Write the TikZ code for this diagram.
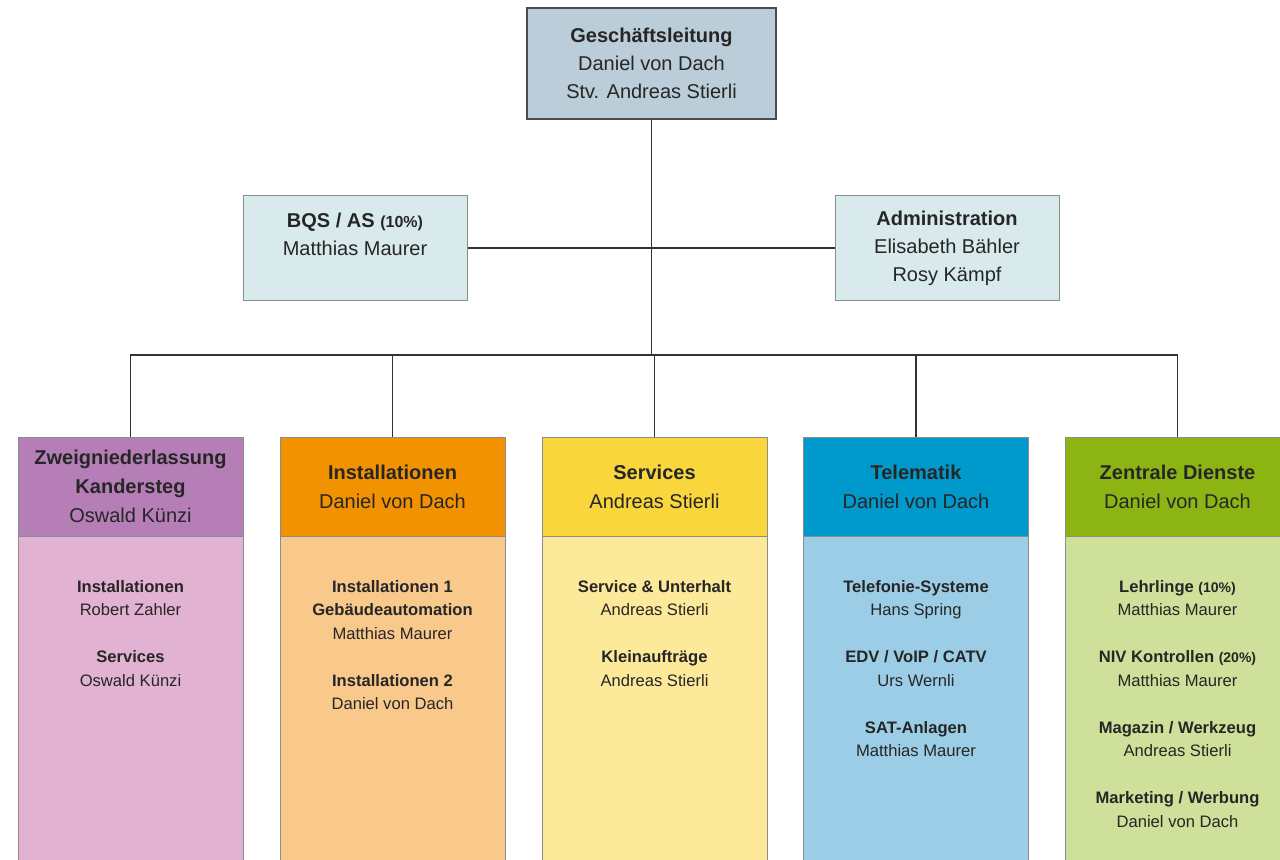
\documentclass[tikz,border=0pt]{standalone}
\usepackage{fontspec}
\setmainfont{Liberation Sans}
\usepackage{tikz}

\definecolor{leitungblau}{RGB}{187,205,216}
\definecolor{stabcyan}{RGB}{216,234,236}
\definecolor{lilakopf}{RGB}{181,126,183}
\definecolor{lilarumpf}{RGB}{226,178,210}
\definecolor{orangekopf}{RGB}{242,146,0}
\definecolor{orangerumpf}{RGB}{249,201,139}
\definecolor{gelbkopf}{RGB}{249,214,60}
\definecolor{gelbrumpf}{RGB}{253,233,154}
\definecolor{blaukopf}{RGB}{0,153,204}
\definecolor{blaurumpf}{RGB}{155,206,230}
\definecolor{gruenkopf}{RGB}{140,181,20}
\definecolor{gruenrumpf}{RGB}{207,224,154}

\newcommand{\anteil}[1]{{\fontsize{8}{8}\selectfont #1}}
\newcommand{\anteilklein}[1]{{\fontsize{7}{7}\selectfont #1}}

\tikzset{
    leitung/.style={draw=black!70, line width=1pt, fill=leitungblau, text=black!85,
        minimum width=124.5pt, minimum height=55.5pt, align=center,
        font=\fontsize{10}{14}\selectfont},
    stab/.style={draw=black!45, line width=0.5pt, fill=stabcyan, text=black!85,
        minimum width=112pt, minimum height=52.5pt, align=center,
        font=\fontsize{10}{14}\selectfont},
    kopf/.style={draw=black!45, line width=0.5pt, text=black!85,
        minimum width=112.5pt, minimum height=49.5pt, align=center,
        font=\fontsize{10}{14.5}\selectfont},
    rumpf/.style={draw=black!45, line width=0.5pt, anchor=north,
        minimum width=112.5pt, minimum height=167pt},
    liste/.style={anchor=north, inner sep=0pt, align=center, text=black!85,
        font=\fontsize{8.3}{11.75}\selectfont},
    linie/.style={draw=black!80, line width=0.75pt}
}

\begin{document}
\begin{tikzpicture}[x=0.5pt,y=-0.5pt]
    \useasboundingbox (0,0) rectangle (1280,859);

    \node[leitung] (gl) at (651.5,63.5)
        {\textbf{Geschäftsleitung}\\Daniel von Dach\\Stv. Andreas Stierli};
    \node[stab] (bqs) at (355,248)
        {\textbf{BQS / AS \anteil{(10\%)}}\\Matthias Maurer\\\mbox{}};
    \node[stab] (adm) at (947,248)
        {\textbf{Administration}\\Elisabeth Bähler\\Rosy Kämpf};
    \coordinate (bus) at (651.5,355);

    \node[rumpf, fill=lilarumpf] (r1) at (130.5,536) {};
    \node[rumpf, fill=orangerumpf] (r2) at (392.5,536) {};
    \node[rumpf, fill=gelbrumpf] (r3) at (654.5,536) {};
    \node[rumpf, fill=blaurumpf] (r4) at (916,536) {};
    \node[rumpf, fill=gruenrumpf] (r5) at (1177.5,536) {};

    \node[kopf, fill=lilakopf] (k1) at (130.5,486.5)
        {\textbf{Zweigniederlassung}\\\textbf{Kandersteg}\\Oswald Künzi};
    \node[kopf, fill=orangekopf] (k2) at (392.5,486.5)
        {\textbf{Installationen}\\Daniel von Dach};
    \node[kopf, fill=gelbkopf] (k3) at (654.5,486.5)
        {\textbf{Services}\\Andreas Stierli};
    \node[kopf, fill=blaukopf] (k4) at (916,486.5)
        {\textbf{Telematik}\\Daniel von Dach};
    \node[kopf, fill=gruenkopf] (k5) at (1177.5,486.5)
        {\textbf{Zentrale Dienste}\\Daniel von Dach};

    \node[liste] (l1) at (130.5,580)
        {\textbf{Installationen}\\Robert Zahler\\[11.75pt]
         \textbf{Services}\\Oswald Künzi};
    \node[liste] (l2) at (392.5,580)
        {\textbf{Installationen 1}\\\textbf{Gebäudeautomation}\\Matthias Maurer\\[11.75pt]
         \textbf{Installationen 2}\\Daniel von Dach};
    \node[liste] (l3) at (654.5,580)
        {\textbf{Service \& Unterhalt}\\Andreas Stierli\\[11.75pt]
         \textbf{Kleinaufträge}\\Andreas Stierli};
    \node[liste] (l4) at (916,580)
        {\textbf{Telefonie-Systeme}\\Hans Spring\\[11.75pt]
         \textbf{EDV / VoIP / CATV}\\Urs Wernli\\[11.75pt]
         \textbf{SAT-Anlagen}\\Matthias Maurer};
    \node[liste] (l5) at (1177.5,580)
        {\textbf{Lehrlinge \anteilklein{(10\%)}}\\Matthias Maurer\\[11.75pt]
         \textbf{NIV Kontrollen \anteilklein{(20\%)}}\\Matthias Maurer\\[11.75pt]
         \textbf{Magazin / Werkzeug}\\Andreas Stierli\\[11.75pt]
         \textbf{Marketing / Werbung}\\Daniel von Dach};

    % Verbindungen
    \draw[linie] (gl.south) -- (bus);
    \draw[linie] (bqs.east) -- (adm.west);
    \draw[linie] (k1.north) |- (bus);
    \draw[linie] (k2.north) |- (bus);
    \draw[linie] (k3.north) |- (bus);
    \draw[linie] (k4.north) |- (bus);
    \draw[linie] (k5.north) |- (bus);
\end{tikzpicture}
\end{document}
